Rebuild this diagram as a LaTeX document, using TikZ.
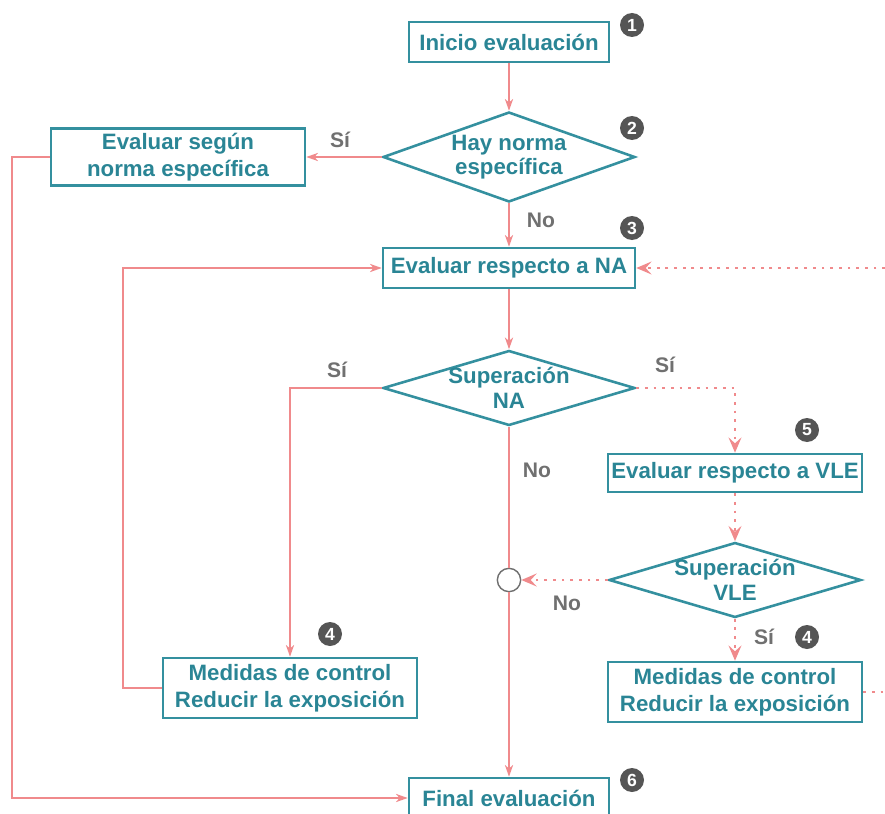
\documentclass[tikz,border=0pt]{standalone}
\usepackage{fontspec}
\setmainfont{Liberation Sans}
\usetikzlibrary{shapes.geometric,arrows.meta,positioning}
\definecolor{azul}{HTML}{34909F}
\definecolor{textoazul}{HTML}{2A8595}
\definecolor{rosa}{HTML}{F08A8C}
\definecolor{gris}{HTML}{707070}
\definecolor{oscuro}{HTML}{555555}

\begin{document}
\begin{tikzpicture}[x=0.03cm,y=-0.03cm,
    caja/.style={rectangle,draw=azul,line width=2.2pt,text=textoazul,align=center,
        inner sep=0pt,font=\fontsize{19}{23}\selectfont\bfseries},
    decision/.style={diamond,draw=azul,line width=2.2pt,text=textoazul,align=center,
        inner sep=0pt,aspect=2.8,minimum width=7.56cm,minimum height=2.7cm,
        font=\fontsize{19}{21}\selectfont\bfseries},
    chata/.style={decision,aspect=3.36,inner ysep=-4pt,minimum height=2.25cm},
    etiqueta/.style={text=gris,font=\fontsize{18}{20}\selectfont\bfseries},
    numero/.style={circle,fill=oscuro,text=white,inner sep=0pt,minimum size=0.72cm,
        font=\fontsize{15}{15}\selectfont\bfseries},
    flecha/.style={draw=rosa,line width=1.3pt,-{Stealth[length=10pt,width=7pt,inset=3pt]}},
    linea/.style={draw=rosa,line width=1.3pt},
    punteada/.style={draw=rosa,line width=2.4pt,dash pattern=on 2.4pt off 5pt,
        -{Stealth[length=13pt,width=11pt,inset=5pt]}}
]
    \useasboundingbox (0,0) rectangle (885,814);
    \clip (0,0) rectangle (885,814);

    % cajas y decisiones
    \node[caja,minimum width=6cm,minimum height=1.2cm] (inicio) at (509,42) {Inicio evaluación};
    \node[decision] (norma) at (509,157) {Hay norma\\específica};
    \node[caja,minimum width=7.62cm,minimum height=1.71cm] (segun) at (178,157) {Evaluar según\\norma específica};
    \node[caja,minimum width=7.56cm,minimum height=1.2cm] (evalNA) at (509,268) {Evaluar respecto a NA};
    \node[chata] (supNA) at (509,388) {Superación\\NA};
    \node[caja,minimum width=7.62cm,minimum height=1.14cm] (evalVLE) at (735,473) {Evaluar respecto a VLE};
    \node[chata] (supVLE) at (735,580) {Superación\\VLE};
    \node[caja,minimum width=7.62cm,minimum height=1.8cm] (medidasA) at (290,688) {Medidas de control\\Reducir la exposición};
    \node[caja,minimum width=7.62cm,minimum height=1.8cm] (medidasB) at (735,692) {Medidas de control\\Reducir la exposición};
    \node[caja,minimum width=6cm,minimum height=1.2cm] (final) at (509,798) {Final evaluación};
    \node[circle,draw=gris,fill=white,line width=1.2pt,minimum size=0.7cm,inner sep=0pt] (union) at (509,580) {};

    % numeros de paso
    \node[numero] (n1) at (632,25) {1};
    \node[numero] (n2) at (632,128) {2};
    \node[numero] (n3) at (632,228) {3};
    \node[numero] (n4a) at (330,634) {4};
    \node[numero] (n5) at (807,430) {5};
    \node[numero] (n4b) at (807,637) {4};
    \node[numero] (n6) at (632,780) {6};

    % puntos auxiliares
    \coordinate (izq) at (12,0);
    \coordinate (lazo) at (123,0);
    \coordinate (bordeA) at (885,268);
    \coordinate (bordeB) at (885,692);

    % conexiones
    \draw[flecha] (inicio) -- (norma);
    \draw[flecha] (norma) -- (segun);
    \draw[flecha] (norma) -- (evalNA);
    \draw[flecha] (segun.west) -- (segun.west -| izq) |- (final.west);
    \draw[flecha] (medidasA.west) -- (medidasA.west -| lazo) |- (evalNA.west);
    \draw[flecha] (evalNA) -- (supNA);
    \draw[flecha] (supNA.west) -| (medidasA.north);
    \draw[punteada] (supNA.east) -| (evalVLE.north);
    \draw[punteada] (evalVLE) -- (supVLE);
    \draw[punteada] (supVLE.west) -- (union.east);
    \draw[linea] (supNA.south) -- (union.north);
    \draw[flecha] (union.south) -- (final.north);
    \draw[punteada] (supVLE.south) -- (medidasB.north);
    \draw[punteada,-] (medidasB.east) -- (bordeB);
    \draw[punteada] (bordeA) -- (evalNA.east);

    % etiquetas
    \node[etiqueta] (si1) at (340,140) {Sí};
    \node[etiqueta] (no1) at (541,220) {No};
    \node[etiqueta] (si2) at (337,370) {Sí};
    \node[etiqueta] (si3) at (665,365) {Sí};
    \node[etiqueta] (no2) at (537,470) {No};
    \node[etiqueta] (no3) at (567,603) {No};
    \node[etiqueta] (si4) at (764,637) {Sí};
\end{tikzpicture}
\end{document}
